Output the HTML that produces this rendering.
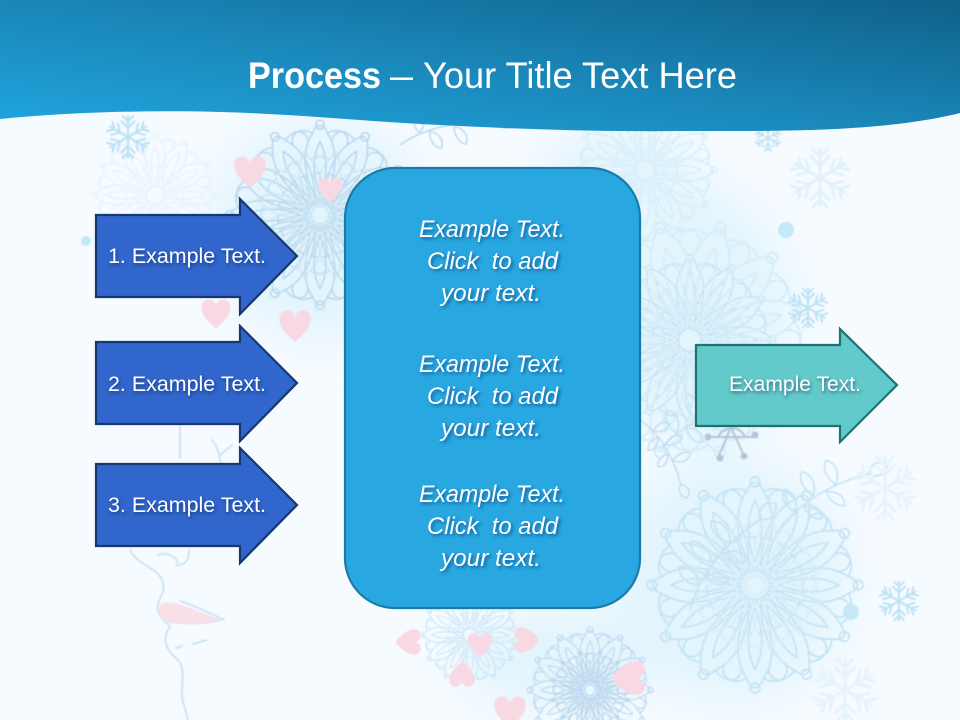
<!DOCTYPE html>
<html><head><meta charset="utf-8"><style>
html,body{margin:0;padding:0;background:#f6fbff}
svg{display:block}
text{font-family:"Liberation Sans",sans-serif;fill:#fff}
.l{font-size:21.5px;filter:drop-shadow(1px 2px 1.5px rgba(0,30,80,.55))}
.c{font-size:24.5px;font-style:italic;filter:drop-shadow(2px 2px 1.5px rgba(0,50,110,.6))}
</style></head><body>
<svg width="960" height="720" viewBox="0 0 960 720" xmlns="http://www.w3.org/2000/svg">
<defs>
<linearGradient id="h" x1="0" y1="1" x2="1" y2="0"><stop offset="0" stop-color="#20a6df"/><stop offset=".5" stop-color="#1a86b8"/><stop offset="1" stop-color="#0f6189"/></linearGradient>
<filter id="b"><feGaussianBlur stdDeviation="22"/></filter>
<filter id="s"><feGaussianBlur stdDeviation=".6"/></filter>
<g id="fl" fill="none" stroke-linecap="round">
<g id="a1"><path d="M0 0V-16M0-7l-5-5M0-7l5-5M0-12l-4-4M0-12l4-4"/></g>
<use href="#a1" transform="rotate(60)"/><use href="#a1" transform="rotate(120)"/><use href="#a1" transform="rotate(180)"/><use href="#a1" transform="rotate(240)"/><use href="#a1" transform="rotate(300)"/>
</g>
<g id="pet"><path d="M0-12C-14-30-20-58-7-78C-3-88 3-88 7-78C20-58 14-30 0-12ZM0-20C-7-36-8-55 0-70C8-55 7-36 0-20ZM-7-78C-22-85-30-74-25-66M7-78C22-85 30-74 25-66"/><circle cx="0" cy="-86" r="4"/></g>
<g id="m" fill="none">
<use href="#pet"/><use href="#pet" transform="rotate(30)"/><use href="#pet" transform="rotate(60)"/><use href="#pet" transform="rotate(90)"/><use href="#pet" transform="rotate(120)"/><use href="#pet" transform="rotate(150)"/><use href="#pet" transform="rotate(180)"/><use href="#pet" transform="rotate(210)"/><use href="#pet" transform="rotate(240)"/><use href="#pet" transform="rotate(270)"/><use href="#pet" transform="rotate(300)"/><use href="#pet" transform="rotate(330)"/>
<circle r="12"/><circle r="40" stroke-dasharray="8 5"/>
</g>
<g id="br" fill="none"><path d="M0 0C25-12 60-14 95-4M20-8C14-18 16-26 22-30C28-24 28-14 20-8ZM42-12C36-24 38-32 44-36C50-30 50-20 42-12ZM64-10C60-22 62-30 68-34C74-28 74-18 64-10ZM30-8C28 0 32 8 38 10C42 4 40-4 30-8ZM54-9C52 0 56 8 62 10C66 4 64-4 54-9ZM95-4C104-12 110-10 114-2C108 4 100 4 95-4Z"/></g>
<path id="hr" d="M0 12C-16 0-14-12-6-12C-3-12-1-10 0-7C1-10 3-12 6-12C14-12 16 0 0 12Z" fill="#f8d8e3"/>
</defs>
<rect width="960" height="720" fill="#f6fbff"/>
<g filter="url(#b)" fill="#dcf2fc" opacity=".75">
<ellipse cx="320" cy="230" rx="110" ry="110"/><ellipse cx="700" cy="320" rx="90" ry="130"/><ellipse cx="730" cy="580" rx="120" ry="120"/><ellipse cx="560" cy="660" rx="100" ry="50"/><ellipse cx="620" cy="170" rx="80" ry="40"/>
</g>
<g filter="url(#s)">
<g stroke="#c4e4f5" stroke-width="1.5">
<use href="#m" transform="translate(320 215) scale(1.05)" stroke="#b9d9ef"/>
<use href="#m" transform="translate(320 215) rotate(15) scale(.72)" stroke="#c7e2f3"/>
<use href="#m" transform="translate(690 340) scale(.95)"/>
<use href="#m" transform="translate(690 340) rotate(15) scale(1.35)" stroke="#d6edf9"/>
<use href="#m" transform="translate(755 585) scale(1.2)"/>
<use href="#m" transform="translate(755 585) rotate(15) scale(.75)" stroke="#d6edf9"/>
<use href="#m" transform="translate(590 690) scale(.7)" stroke="#bcd8ee"/>
<use href="#m" transform="translate(590 690) rotate(15) scale(.45)" stroke="#b3d0ea"/>
<use href="#m" transform="translate(470 635) scale(.55)"/>
<use href="#m" transform="translate(645 170) scale(.8)" stroke="#d4edf9"/>
<use href="#m" transform="translate(155 195) scale(.7)" stroke="#e4f2fa"/>
<use href="#br" transform="translate(400 145) rotate(-10) scale(1.05)" stroke="#bedcf0"/>
<use href="#br" transform="translate(660 450) rotate(-25) scale(1.1)"/>
<use href="#br" transform="translate(690 610) rotate(-50) scale(1.2)"/>
<use href="#br" transform="translate(780 530) rotate(-30) scale(1.1)"/>
<use href="#br" transform="translate(640 420) rotate(60) scale(.8)" stroke="#bcd8ee"/>
</g>
<g stroke="#bde2f5" stroke-width="1.7">
<use href="#fl" transform="translate(128 137) scale(1.3)"/>
<use href="#fl" transform="translate(768 138) scale(.8)"/>
<use href="#fl" transform="translate(808 308) scale(1.2)"/>
<use href="#fl" transform="translate(899 601) scale(1.2)"/>
<use href="#fl" transform="translate(820 178) scale(1.8)" stroke="#e2f2fa"/>
<use href="#fl" transform="translate(885 488) scale(1.9)" stroke="#e6f4fb"/>
<use href="#fl" transform="translate(845 690) scale(1.9)" stroke="#e6f4fb"/>
</g>
<g fill="#c4e7f9"><circle cx="786" cy="230" r="8"/><circle cx="851" cy="612" r="8"/><circle cx="86" cy="241" r="5"/></g>
<use href="#hr" transform="translate(250 172) scale(1.3)"/>
<use href="#hr" transform="translate(330 190) scale(1)"/>
<use href="#hr" transform="translate(216 314) scale(1.2)"/>
<use href="#hr" transform="translate(295 326) scale(1.3)"/>
<use href="#hr" transform="translate(408 642) rotate(90) scale(1.05)"/>
<use href="#hr" transform="translate(527 640) rotate(-90) scale(1.05)"/>
<use href="#hr" transform="translate(462 674) rotate(180) scale(1.05)"/>
<use href="#hr" transform="translate(480 645) scale(1)"/>
<use href="#hr" transform="translate(628 678) rotate(90) scale(1.4)"/>
<use href="#hr" transform="translate(510 712) scale(1.3)"/>
<g fill="none" stroke="#cfe4f2" stroke-width="2" stroke-linecap="round">
<path d="M180 425V458M130 550C138 566 160 568 163 583C166 595 156 598 158 610C160 620 168 622 170 627C160 640 168 652 178 660C188 672 178 690 184 705L188 720"/>
<path d="M158 555C166 552 176 556 178 563M189 550C190 562 182 566 176 565"/>
<path d="M170 622C190 624 210 624 224 619M180 601C196 606 212 614 222 619M176 648L182 646M193 644L206 640"/>
<path d="M212 440C222 452 218 462 222 463M220 455L232 445"/>
</g>
<path d="M160 604C172 598 192 610 222 620C205 624 180 624 168 622C160 620 158 612 160 604Z" fill="#f9e0e7"/>
<g fill="none" stroke="#b6c6da" stroke-width="2"><path d="M708 437H755M731 427L718 458M731 427L745 458M718 437C724 425 740 425 745 437"/></g>
<g fill="#b6c6da"><circle cx="708" cy="437" r="3.5"/><circle cx="755" cy="435" r="3.5"/><circle cx="720" cy="458" r="3.5"/><circle cx="744" cy="456" r="3.5"/></g>
</g>

<path d="M0 119C70 112 150 110 220 112C300 114 370 122 440 125C520 129 600 132 680 131C770 131 880 133 960 113V0H0Z" fill="url(#h)"/>
<text x="248" y="88" font-size="37" font-weight="bold" textLength="133" lengthAdjust="spacingAndGlyphs">Process</text>
<text x="390" y="88" font-size="37" textLength="23" lengthAdjust="spacingAndGlyphs">–</text>
<text x="423" y="88" font-size="37" textLength="314" lengthAdjust="spacingAndGlyphs">Your Title Text Here</text>

<g fill="#3166cc" stroke="#17376f" stroke-width="2.2">
<path d="M96 215H240V199L297 256L240 314V297H96Z"/>
<path d="M96 342H240V326L297 383L240 441V424H96Z"/>
<path d="M96 464H240V448L297 505L240 563V546H96Z"/>
</g>
<path d="M696 345H840V329L897 385L840 442V426H696Z" fill="#62caca" stroke="#21716f" stroke-width="2.2"/>
<rect x="345" y="168" width="295" height="440" rx="50" fill="#29a7e1" stroke="#1b7aa6" stroke-width="2.2"/>

<text class="l" x="108" y="263" textLength="158" lengthAdjust="spacingAndGlyphs">1. Example Text.</text>
<text class="l" x="108" y="391" textLength="158" lengthAdjust="spacingAndGlyphs">2. Example Text.</text>
<text class="l" x="108" y="512" textLength="158" lengthAdjust="spacingAndGlyphs">3. Example Text.</text>
<text class="l" x="729" y="391" textLength="132" lengthAdjust="spacingAndGlyphs">Example Text.</text>

<text class="c" x="419" y="237" textLength="146" lengthAdjust="spacingAndGlyphs">Example Text.</text>
<text class="c" x="427" y="269" textLength="131" lengthAdjust="spacingAndGlyphs" xml:space="preserve">Click  to add</text>
<text class="c" x="441" y="301" textLength="100" lengthAdjust="spacingAndGlyphs">your text.</text>
<text class="c" x="419" y="372" textLength="146" lengthAdjust="spacingAndGlyphs">Example Text.</text>
<text class="c" x="427" y="404" textLength="131" lengthAdjust="spacingAndGlyphs" xml:space="preserve">Click  to add</text>
<text class="c" x="441" y="436" textLength="100" lengthAdjust="spacingAndGlyphs">your text.</text>
<text class="c" x="419" y="502" textLength="146" lengthAdjust="spacingAndGlyphs">Example Text.</text>
<text class="c" x="427" y="534" textLength="131" lengthAdjust="spacingAndGlyphs" xml:space="preserve">Click  to add</text>
<text class="c" x="441" y="566" textLength="100" lengthAdjust="spacingAndGlyphs">your text.</text>
</svg>
</body></html>
